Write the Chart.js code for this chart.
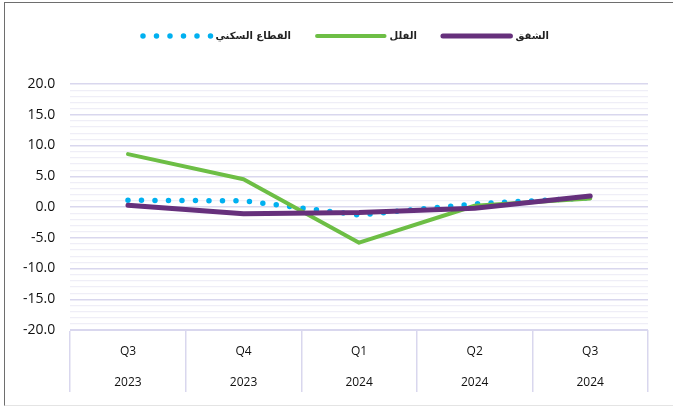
<!DOCTYPE html><html lang="ar">
<head>
<meta charset="utf-8"/>
<title>القطاع السكني</title>
<script src="https://cdn.jsdelivr.net/npm/chart.js"></script>
<style>
  html,body{margin:0;padding:0;background:#fff}
  #wrap{position:relative;width:673px;height:406px}
  #frame{position:absolute;left:4px;top:2px;width:669px;height:402px;border-left:1px solid #6e6e6e;border-top:1px solid #6e6e6e;border-bottom:1px solid #e4e4e4;pointer-events:none}
  canvas{display:block}
</style>
</head>
<body>
<div id="wrap">
<canvas id="chart" width="673" height="406"></canvas>
<div id="frame"></div>
</div>
<script>
// -------- data --------
const categories = [['Q3','2023'],['Q4','2023'],['Q1','2024'],['Q2','2024'],['Q3','2024']];
const apartments  = [0.3, -1.1, -0.9, -0.2, 1.8];   // الشقق
const villas      = [8.6, 4.5, -5.8, 0.2, 1.4];     // الفلل
const residential = [1.1, 1.0, -1.3, 0.5, 1.5];     // القطاع السكني
const yTicks = {min: -20, max: 20, major: 5, minor: 1};

const PURPLE = '#66307c', GREEN = '#6dbe45', CYAN = '#00b0f0';
const GRID_MAJOR = '#d9d7ee', GRID_MINOR = '#efeef7';

// extra room under the legend, and nudge it a bit to the right
const legendGap = {
  id: 'legendGap',
  beforeLayout(chart){
    const lg = chart.legend;
    if(!lg || lg._gapPatched) return;
    const fit = lg.fit;
    lg.fit = function(){ fit.call(this); this.height += 33; };
    lg._gapPatched = true;
  },
  afterLayout(chart){
    if(chart.legend) chart.legend.left += 36;
  }
};

new Chart(document.getElementById('chart'), {
  type: 'line',
  data: {
    labels: categories,
    datasets: [
      {label: 'الشقق', data: apartments, borderColor: PURPLE, backgroundColor: 'rgba(0,0,0,0)',
       borderWidth: 5, borderCapStyle: 'round', borderJoinStyle: 'round', pointRadius: 0, tension: 0},
      {label: 'الفلل', data: villas, borderColor: GREEN, backgroundColor: 'rgba(0,0,0,0)',
       borderWidth: 4, borderCapStyle: 'round', borderJoinStyle: 'round', pointRadius: 0, tension: 0},
      {label: 'القطاع السكني', data: residential, borderColor: CYAN, backgroundColor: 'rgba(0,0,0,0)',
       borderWidth: 5.5, borderDash: [0, 13.5], borderCapStyle: 'round', pointRadius: 0, tension: 0}
    ]
  },
  options: {
    responsive: false,
    animation: false,
    layout: {padding: {left: 8, right: 25, top: 5, bottom: 8}},
    plugins: {
      tooltip: {enabled: false},
      legend: {
        position: 'top',
        reverse: true,
        labels: {
          boxWidth: 67.5, boxHeight: 0, padding: 26, color: '#222',
          font: {family: 'DejaVu Sans', size: 10, weight: 'bold'}
        }
      }
    },
    scales: {
      x: {
        offset: true,
        afterFit: s => { s.height = 68; },
        border: {display: true, color: GRID_MAJOR},
        grid: {offset: true, drawOnChartArea: false, drawTicks: true, tickLength: 62, color: GRID_MAJOR, lineWidth: 1.5},
        ticks: {padding: -56, color: '#111', maxRotation: 0, autoSkip: false,
                font: {family: 'Open Sans', size: 12, lineHeight: 31 / 12}}
      },
      y: {
        min: yTicks.min, max: yTicks.max,
        border: {display: false},
        grid: {drawTicks: false,
               color: c => (c.tick.value % yTicks.major === 0 ? GRID_MAJOR : GRID_MINOR),
               lineWidth: c => (c.tick.value % yTicks.major === 0 ? 1.5 : 1.2)},
        ticks: {stepSize: yTicks.minor, autoSkip: false, padding: 15, color: '#111',
                font: {family: 'Open Sans', size: 14},
                callback: v => (v % yTicks.major === 0 ? v.toFixed(1) : '')}
      }
    }
  },
  plugins: [legendGap]
});
</script>
</body>
</html>
